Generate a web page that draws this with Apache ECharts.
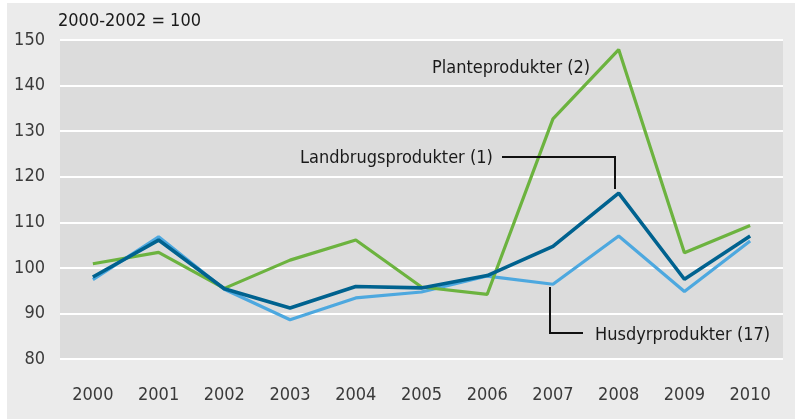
<!DOCTYPE html>
<html>
<head>
<meta charset="utf-8">
<script src="https://cdn.jsdelivr.net/npm/echarts@6/dist/echarts.min.js"></script>
<style>
  html, body { margin: 0; padding: 0; background: #fff; }
  #bg { position: absolute; left: 7px; top: 3px; width: 788px; height: 416px; background: #ebebeb; }
  #chart { position: absolute; left: 0; top: 0; width: 795px; height: 419px; }
</style>
</head>
<body>
<div id="bg"></div>
<div id="chart"></div>
<script>
// years on x axis
var years = ['2000', '2001', '2002', '2003', '2004', '2005', '2006', '2007', '2008', '2009', '2010'];
// index 2000-2002 = 100
var landbrug = [98.0, 106.1, 95.4, 91.2, 95.9, 95.6, 98.3, 104.7, 116.4, 97.5, 107.0];
var plante   = [100.9, 103.4, 95.5, 101.7, 106.1, 95.8, 94.2, 132.7, 147.9, 103.3, 109.3];
var husdyr   = [97.4, 106.8, 95.3, 88.6, 93.4, 94.7, 98.2, 96.4, 107.0, 94.8, 105.9];

var fontFam = "'DejaVu Sans Condensed', 'Liberation Sans Narrow', sans-serif";

var chart = echarts.init(document.getElementById('chart'));
var option = {
    backgroundColor: 'transparent',
    animation: false,
    textStyle: { fontFamily: fontFam },
    grid: {
        left: 60, right: 12, top: 40, bottom: 60,
        show: true,
        backgroundColor: '#dcdcdc',
        borderWidth: 0
    },
    xAxis: {
        type: 'category',
        data: years,
        boundaryGap: true,
        axisLine: { show: false },
        axisTick: { show: false },
        axisLabel: { color: '#3a3a3a', fontSize: 18, margin: 27, fontFamily: fontFam }
    },
    yAxis: {
        type: 'value',
        min: 80, max: 150, interval: 10,
        axisLine: { show: false },
        axisTick: { show: false },
        splitLine: { lineStyle: { color: '#ffffff', width: 2 } },
        axisLabel: { color: '#3a3a3a', fontSize: 18, margin: 15, padding: [9, 0, 0, 0], fontFamily: fontFam }
    },
    series: [
        {
            name: 'Husdyrprodukter (17)', type: 'line', data: husdyr,
            symbol: 'none', lineStyle: { color: '#4da8df', width: 3.2 }, z: 2
        },
        {
            name: 'Planteprodukter (2)', type: 'line', data: plante,
            symbol: 'none', lineStyle: { color: '#6cb33f', width: 3.2 }, z: 3
        },
        {
            name: 'Landbrugsprodukter (1)', type: 'line', data: landbrug,
            symbol: 'none', lineStyle: { color: '#00628f', width: 3.6 }, z: 4
        }
    ],
    graphic: [
        { type: 'text', left: 58, top: 12,
          style: { text: '2000-2002 = 100', fill: '#1a1a1a', font: '18px ' + fontFam } },
        { type: 'text', left: 432, top: 59,
          style: { text: 'Planteprodukter (2)', fill: '#1a1a1a', font: '18px ' + fontFam } },
        { type: 'text', left: 300, top: 149,
          style: { text: 'Landbrugsprodukter (1)', fill: '#1a1a1a', font: '18px ' + fontFam } },
        { type: 'text', left: 595, top: 326,
          style: { text: 'Husdyrprodukter (17)', fill: '#1a1a1a', font: '18px ' + fontFam } },
        { type: 'polyline', z: 10,
          shape: { points: [[502, 157], [615, 157], [615, 189]] },
          style: { stroke: '#111', lineWidth: 2, fill: null } },
        { type: 'polyline', z: 10,
          shape: { points: [[550, 287], [550, 333], [583, 333]] },
          style: { stroke: '#111', lineWidth: 2, fill: null } }
    ]
};
chart.setOption(option);
</script>
</body>
</html>
